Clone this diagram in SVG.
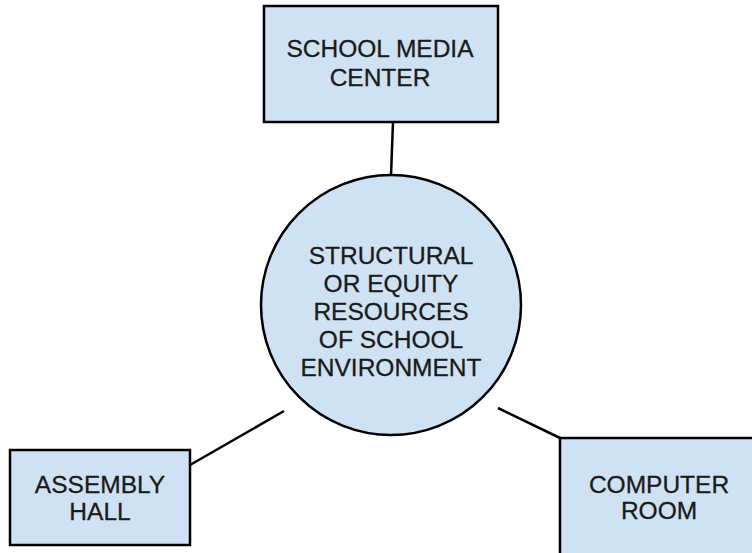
<svg xmlns="http://www.w3.org/2000/svg" width="752" height="553" viewBox="0 0 752 553">
<style>
.n{fill:#cfe2f3;stroke:#000;stroke-width:2.5}
.t{font-family:"Liberation Sans",Arial,sans-serif;font-size:24.5px;fill:#1a1a1a;stroke:#1a1a1a;stroke-width:0.3;text-anchor:middle}
.c{stroke:#000;stroke-width:2.5;fill:none}
</style>
<rect width="752" height="553" fill="#fff"/>
<g id="connectors">
<line class="c" x1="393" y1="122" x2="391" y2="176"/>
<line class="c" x1="190" y1="465" x2="284" y2="411"/>
<line class="c" x1="498" y1="408" x2="560" y2="438"/>
</g>
<g id="center">
<circle class="n" cx="391" cy="305" r="130"/>
<text class="t" x="391" y="264">STRUCTURAL</text>
<text class="t" x="391" y="292">OR EQUITY</text>
<text class="t" x="391" y="320">RESOURCES</text>
<text class="t" x="391" y="348">OF SCHOOL</text>
<text class="t" x="391" y="376">ENVIRONMENT</text>
</g>
<g id="media">
<rect class="n" x="264" y="6" width="234" height="116"/>
<text class="t" x="380" y="57">SCHOOL MEDIA</text>
<text class="t" x="380" y="86">CENTER</text>
</g>
<g id="assembly">
<rect class="n" x="10" y="450" width="180" height="95"/>
<text class="t" x="100" y="493">ASSEMBLY</text>
<text class="t" x="100" y="520">HALL</text>
</g>
<g id="computer">
<rect class="n" x="560" y="438" width="200" height="130"/>
<text class="t" x="659" y="493">COMPUTER</text>
<text class="t" x="659" y="519">ROOM</text>
</g>
</svg>
